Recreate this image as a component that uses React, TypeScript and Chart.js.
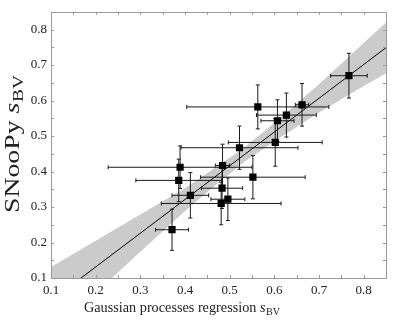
import React, { useEffect, useRef } from "react";
import { Chart, registerables } from "chart.js";

Chart.register(...registerables);

// Data
const sgpX = [0.767, 0.662, 0.563, 0.627, 0.607, 0.602, 0.522, 0.552, 0.484, 0.389, 0.386, 0.412, 0.483, 0.496, 0.481, 0.371];
const snoopyY = [0.670, 0.588, 0.582, 0.559, 0.543, 0.482, 0.467, 0.384, 0.417, 0.412, 0.375, 0.333, 0.353, 0.322, 0.310, 0.236];
const xErr = [0.041, 0.015, 0.159, 0.067, 0.037, 0.105, 0.131, 0.117, 0.016, 0.161, 0.096, 0.041, 0.046, 0.038, 0.134, 0.037];
const yErr = [0.063, 0.060, 0.062, 0.062, 0.059, 0.067, 0.061, 0.061, 0.060, 0.060, 0.060, 0.064, 0.057, 0.060, 0.060, 0.058];

const lineX = [0.1, 0.85];
const lineY = [0.036, 0.749];

const bandX = [0.1, 0.2, 0.3, 0.4, 0.45, 0.53, 0.6, 0.7, 0.8, 0.85];
const bandUpper = [0.131, 0.205, 0.279, 0.353, 0.396, 0.465, 0.537, 0.646, 0.762, 0.82];
const bandLower = [-0.059, 0.058, 0.174, 0.289, 0.342, 0.425, 0.485, 0.566, 0.641, 0.677];

const xTicks = [0.1, 0.2, 0.3, 0.4, 0.5, 0.6, 0.7, 0.8];
const yTicks = [0.1, 0.2, 0.3, 0.4, 0.5, 0.6, 0.7, 0.8];
const minorTicks = [0.1, 0.15, 0.2, 0.25, 0.3, 0.35, 0.4, 0.45, 0.5, 0.55, 0.6, 0.65, 0.7, 0.75, 0.8];

const xTitle = "Gaussian processes regression ";
const yTitle = "SNooPy ";
const titleVar = "s";
const titleSub = "BV";

const AXIS_MIN = 0.1;
const AXIS_MAX = 0.85;
const SERIF = '"Liberation Serif", "Times New Roman", serif';

const errorBarPlugin = {
  id: "errorBars",
  beforeDatasetDraw(chart: any, args: any) {
    if (args.index !== 0) return;
    const { ctx, scales } = chart;
    const xs = scales.x;
    const ys = scales.y;
    const area = chart.chartArea;
    ctx.save();
    ctx.beginPath();
    ctx.rect(area.left, area.top, area.right - area.left, area.bottom - area.top);
    ctx.clip();
    ctx.strokeStyle = "#1a1a1a";
    ctx.lineWidth = 1;
    const cap = 2;
    for (let i = 0; i < sgpX.length; i++) {
      const cx = xs.getPixelForValue(sgpX[i]);
      const cy = ys.getPixelForValue(snoopyY[i]);
      const x0 = xs.getPixelForValue(sgpX[i] - xErr[i]);
      const x1 = xs.getPixelForValue(sgpX[i] + xErr[i]);
      const y0 = ys.getPixelForValue(snoopyY[i] - yErr[i]);
      const y1 = ys.getPixelForValue(snoopyY[i] + yErr[i]);
      ctx.beginPath();
      ctx.moveTo(x0, cy);
      ctx.lineTo(x1, cy);
      ctx.moveTo(x0, cy - cap);
      ctx.lineTo(x0, cy + cap);
      ctx.moveTo(x1, cy - cap);
      ctx.lineTo(x1, cy + cap);
      ctx.moveTo(cx, y0);
      ctx.lineTo(cx, y1);
      ctx.moveTo(cx - cap, y0);
      ctx.lineTo(cx + cap, y0);
      ctx.moveTo(cx - cap, y1);
      ctx.lineTo(cx + cap, y1);
      ctx.stroke();
    }
    ctx.restore();
  },
};

// Draws "<main> s_BV" starting at (x, y), stretched along the text to span targetLen px
function drawTitle(ctx: any, x: number, y: number, main: string, size: number, subSize: number, subDrop: number, targetLen: number) {
  ctx.font = `${size}px ${SERIF}`;
  const w1 = ctx.measureText(main).width;
  ctx.font = `italic ${size}px ${SERIF}`;
  const w2 = ctx.measureText(titleVar).width + 0.5;
  ctx.font = `${subSize}px ${SERIF}`;
  const w3 = ctx.measureText(titleSub).width;
  const k = targetLen / (w1 + w2 + w3);
  ctx.save();
  ctx.translate(x, y);
  ctx.scale(k, 1);
  ctx.font = `${size}px ${SERIF}`;
  ctx.fillText(main, 0, 0);
  ctx.font = `italic ${size}px ${SERIF}`;
  ctx.fillText(titleVar, w1, 0);
  ctx.font = `${subSize}px ${SERIF}`;
  ctx.fillText(titleSub, w1 + w2, subDrop);
  ctx.restore();
}

const framePlugin = {
  id: "frameAndTitles",
  afterDraw(chart: any) {
    const { ctx, scales } = chart;
    const a = chart.chartArea;
    const xs = scales.x;
    const ys = scales.y;
    ctx.save();
    ctx.strokeStyle = "#9a9a9a";
    ctx.lineWidth = 1;
    ctx.beginPath();
    ctx.rect(Math.round(a.left) + 0.5, Math.round(a.top) + 0.5, Math.round(a.right - a.left), Math.round(a.bottom - a.top));
    ctx.stroke();
    const t = 3;
    ctx.beginPath();
    minorTicks.forEach((v) => {
      const px = Math.round(xs.getPixelForValue(v)) + 0.5;
      ctx.moveTo(px, a.bottom);
      ctx.lineTo(px, a.bottom - t);
      ctx.moveTo(px, a.top);
      ctx.lineTo(px, a.top + t);
      const py = Math.round(ys.getPixelForValue(v)) + 0.5;
      ctx.moveTo(a.left, py);
      ctx.lineTo(a.left + t, py);
      ctx.moveTo(a.right, py);
      ctx.lineTo(a.right - t, py);
    });
    ctx.stroke();

    ctx.fillStyle = "#222";
    ctx.textBaseline = "alphabetic";
    ctx.textAlign = "left";
    drawTitle(ctx, 84, 312, xTitle, 15.5, 11, 3, 196);

    ctx.save();
    ctx.translate(19, 213);
    ctx.rotate(-Math.PI / 2);
    drawTitle(ctx, 0, 0, yTitle, 20, 14, 4, 138);
    ctx.restore();
    ctx.restore();
  },
};

export default function App() {
  const ref = useRef<HTMLCanvasElement | null>(null);
  useEffect(() => {
    if (!ref.current) return;
    const tickFont = { family: SERIF, size: 13 };
    const chart = new Chart(ref.current, {
      type: "scatter",
      data: {
        datasets: [
          {
            label: "points",
            data: sgpX.map((x, i) => ({ x, y: snoopyY[i] })),
            pointStyle: "rect",
            pointRadius: 5.1,
            backgroundColor: "#000",
            borderColor: "#000",
            borderWidth: 0,
          },
          {
            label: "fit",
            data: lineX.map((x, i) => ({ x, y: lineY[i] })),
            showLine: true,
            pointRadius: 0,
            borderColor: "#000",
            borderWidth: 1,
            fill: false,
          },
          {
            label: "upper",
            data: bandX.map((x, i) => ({ x, y: bandUpper[i] })),
            showLine: true,
            pointRadius: 0,
            borderColor: "transparent",
            borderWidth: 0,
            backgroundColor: "#cbcbcb",
            fill: "+1",
          },
          {
            label: "lower",
            data: bandX.map((x, i) => ({ x, y: bandLower[i] })),
            showLine: true,
            pointRadius: 0,
            borderColor: "transparent",
            borderWidth: 0,
            fill: false,
          },
        ],
      },
      options: {
        animation: false,
        responsive: false,
        events: [],
        layout: { padding: { top: 5, right: 9, left: 0, bottom: 0 } },
        plugins: { legend: { display: false }, tooltip: { enabled: false } },
        scales: {
          x: {
            type: "linear",
            min: AXIS_MIN,
            max: AXIS_MAX,
            grid: { display: false, drawTicks: false },
            border: { display: false },
            afterBuildTicks: (s: any) => {
              s.ticks = xTicks.map((v) => ({ value: v }));
            },
            afterFit: (s: any) => {
              s.height = 43;
            },
            ticks: {
              font: tickFont,
              color: "#222",
              padding: 5,
              maxRotation: 0,
              callback: (v: any) => Number(v).toFixed(1),
            },
          },
          y: {
            type: "linear",
            min: AXIS_MIN,
            max: AXIS_MAX,
            grid: { display: false, drawTicks: false },
            border: { display: false },
            afterBuildTicks: (s: any) => {
              s.ticks = yTicks.map((v) => ({ value: v }));
            },
            afterFit: (s: any) => {
              s.width = 51;
            },
            ticks: {
              font: tickFont,
              color: "#222",
              padding: 4,
              callback: (v: any) => Number(v).toFixed(1),
            },
          },
        },
      },
      plugins: [errorBarPlugin, framePlugin],
    });
    return () => chart.destroy();
  }, []);
  return (
    <div style={{ position: "fixed", left: 0, top: 0, width: 395, height: 321, background: "#fff" }}>
      <canvas ref={ref} width={395} height={321} style={{ display: "block" }} />
    </div>
  );
}
